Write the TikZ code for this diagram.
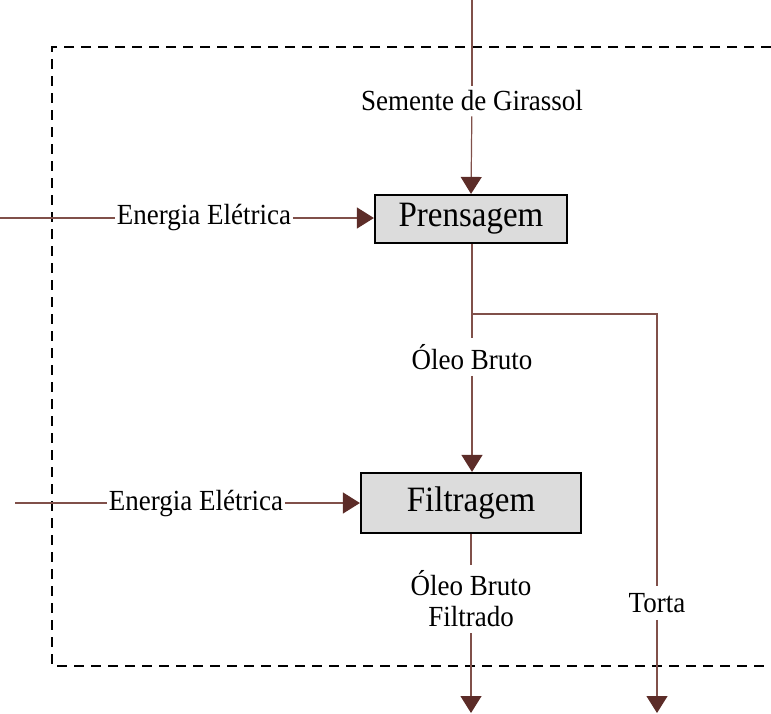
\documentclass[tikz,border=0pt]{standalone}
\usepackage{fontspec}
\setmainfont{Liberation Serif}
\usetikzlibrary{arrows.meta}
\definecolor{flowline}{RGB}{128,80,74}
\definecolor{tipbrown}{RGB}{92,44,40}
\definecolor{boxgray}{RGB}{220,220,220}
\newcommand{\tallt}[1]{\scalebox{1}[1.08]{#1}}
\tikzset{
  flow/.style={draw=flowline, line width=1.2pt},
  flowarrow/.style={flow, -{Triangle[width=21pt,length=17pt,color=tipbrown]}},
  procbox/.style={draw=black, line width=2.2pt, fill=boxgray, inner sep=0pt,
    font=\fontsize{33}{38}\selectfont},
  lbl/.style={inner sep=1.5pt, font=\fontsize{27}{31}\selectfont, align=center},
  boundary/.style={draw=black, line width=2.8pt, dash pattern=on 10pt off 7pt}
}
\begin{document}
\begin{tikzpicture}[x=1pt, y=-1pt]
  \useasboundingbox (0,0) rectangle (771,713);

  % system boundary (open on the right)
  \draw[boundary] (771,47) -- (52,47) -- (52,666) -- (771,666);

  % process boxes
  \node[procbox, minimum width=192pt, minimum height=48pt] (pren) at (471,219) {\tallt{Prensagem}};
  \node[procbox, minimum width=220pt, minimum height=60pt] (filt) at (471,503) {\tallt{Filtragem}};

  % feed
  \coordinate (seedin) at (472,0);
  \node[lbl, inner sep=5pt] (seed) at (472,101) {\tallt{Semente de Girassol}};
  \draw[flow] (seedin) -- (seed);
  \draw[flowarrow] (seed) -- (pren.north);

  % electric energy into pressing
  \coordinate (e1in) at (0,218);
  \node[lbl] (e1) at (204,218) {\tallt{Energia Elétrica}};
  \draw[flow] (e1in) -- (e1);
  \draw[flowarrow] (e1) -- (pren.west |- e1);

  % crude oil to filtering, cake branch
  \coordinate (split) at (472,314);
  \coordinate (cakecorner) at (657,314);
  \node[lbl, inner sep=6pt] (crude) at (472,357) {\tallt{Óleo Bruto}};
  \draw[flow] (pren.south -| split) -- (split) -- (crude);
  \draw[flowarrow] (crude) -- (filt.north -| crude);

  \node[lbl, inner sep=7pt] (cake) at (657,603) {\tallt{Torta}};
  \coordinate (cakeout) at (657,713);
  \draw[flow] (split) -- (cakecorner) -- (cake);
  \draw[flowarrow] (cake) -- (cakeout);

  % electric energy into filtering
  \coordinate (e2in) at (15,503);
  \node[lbl] (e2) at (196,503) {\tallt{Energia Elétrica}};
  \draw[flow] (e2in) -- (e2);
  \draw[flowarrow] (e2) -- (filt.west |- e2);

  % filtered crude oil out
  \node[lbl, inner sep=6pt] (filtered) at (471,599) {\tallt{Óleo Bruto}\\\tallt{Filtrado}};
  \coordinate (oilout) at (471,713);
  \draw[flow] (filt.south -| filtered) -- (filtered);
  \draw[flowarrow] (filtered) -- (oilout);
\end{tikzpicture}
\end{document}
